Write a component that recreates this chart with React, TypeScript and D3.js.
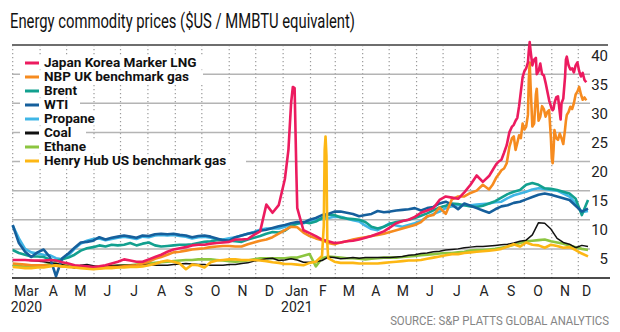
import React from "react";
import * as d3 from "d3";

// ---------- DATA ----------
const startDate = new Date(2020, 2, 1);
const weekCount = 94;

const monthLabels = ["Mar", "A", "M", "J", "J", "A", "S", "O", "N", "D", "Jan", "F", "M", "A", "M", "J", "J", "A", "S", "O", "N", "D"];
const yearLabels = ["2020", "2021"];
const yearMonthIndex = [0, 10];
const yTicks = [5, 10, 15, 20, 25, 30, 35, 40];

const seriesNames = ["Japan Korea Marker LNG", "NBP UK benchmark gas", "Brent", "WTI", "Propane", "Coal", "Ethane", "Henry Hub US benchmark gas"];
const seriesColors = ["#ec1b5f", "#f68b1f", "#12a08f", "#155f9c", "#40b6e6", "#111111", "#8cc540", "#fdb714"];

const jkmWeekly = [3.1, 3.1, 3.1, 3.0, 3.0, 3.0, 3.1, 3.0, 2.7, 2.5,
  2.2, 2.1, 2.0, 1.9, 2.0, 2.2, 2.5, 2.8, 3.2, 3.0,
  2.8, 2.8, 3.2, 3.6, 4.0, 4.5, 4.9, 5.1, 5.3, 5.6,
  5.7, 5.7, 5.9, 6.0, 6.1, 6.2, 6.6, 6.6, 6.7, 7.4,
  8.0, 12.6, 11.2, 12.5, 17.0, 30.0, 12.0, 8.2, 7.7, 7.2,
  6.6, 6.3, 6.0, 6.1, 6.3, 6.4, 6.6, 6.9, 7.2, 7.6,
  8.0, 8.7, 9.4, 9.8, 10.0, 10.5, 11.2, 11.6, 12.0, 13.4,
  14.0, 13.8, 13.6, 14.7, 16.0, 17.6, 16.5, 17.5];
const jkmJanDates = ["2021-01-07", "2021-01-12", "2021-01-14", "2021-01-16"];
const jkmJanValues = [22, 32.8, 32.6, 18];

const nbpWeekly = [2.5, 2.4, 2.3, 2.2, 2.2, 2.2, 2.1, 2.1, 2.0, 1.9,
  1.9, 1.8, 1.8, 1.7, 1.7, 1.8, 1.9, 1.9, 2.0, 2.1,
  2.2, 2.5, 2.8, 3.3, 3.6, 4.0, 4.4, 4.5, 4.7, 4.9,
  5.0, 5.1, 5.3, 5.4, 5.5, 5.5, 5.4, 5.4, 5.8, 6.1,
  6.4, 6.6, 7.0, 7.6, 8.2, 8.8, 8.7, 7.8, 7.2, 6.8,
  6.5, 6.0, 5.8, 6.1, 6.3, 6.6, 6.8, 7.0, 7.2, 7.4,
  7.6, 7.9, 8.2, 8.5, 8.8, 9.1, 9.6, 10.6, 10.8, 12.1,
  11.0, 13.5, 14.0, 14.0, 14.6, 15.0, 16.0, 15.2];

const lateDates = ["2021-08-26", "2021-08-30", "2021-09-02", "2021-09-05", "2021-09-08", "2021-09-11", "2021-09-14", "2021-09-17",
  "2021-09-19", "2021-09-21", "2021-09-23", "2021-09-25", "2021-09-27", "2021-09-29", "2021-10-01", "2021-10-03",
  "2021-10-05", "2021-10-06", "2021-10-07", "2021-10-08", "2021-10-10", "2021-10-12", "2021-10-14", "2021-10-15",
  "2021-10-17", "2021-10-19", "2021-10-21", "2021-10-23", "2021-10-25", "2021-10-27", "2021-10-29", "2021-10-31",
  "2021-11-01", "2021-11-02", "2021-11-03", "2021-11-04", "2021-11-06", "2021-11-08", "2021-11-10", "2021-11-11",
  "2021-11-12", "2021-11-14", "2021-11-16", "2021-11-17", "2021-11-18", "2021-11-20", "2021-11-22", "2021-11-24",
  "2021-11-26", "2021-11-28", "2021-11-30", "2021-12-02", "2021-12-04", "2021-12-06", "2021-12-08", "2021-12-10"];
const jkmLate = [18.5, 19.5, 20.0, 20.3, 21.5, 22.8, 25.0, 26.0,
  26.3, 27.0, 27.5, 29.5, 32.0, 34.5, 35.5, 36.0,
  37.0, 39.0, 40.5, 39.0, 36.5, 37.5, 37.8, 35.0,
  35.5, 36.8, 35.0, 34.8, 33.5, 32.0, 30.5, 29.5,
  29.0, 28.8, 29.0, 30.0, 31.0, 31.2, 28.5, 27.2,
  30.0, 30.8, 34.5, 37.5, 38.0, 36.5, 35.8, 36.0,
  35.3, 36.5, 37.0, 35.5, 34.6, 35.2, 34.0, 33.6];
const nbpLate = [16.0, 17.2, 17.8, 18.5, 18.8, 19.7, 22.5, 24.0,
  24.3, 22.0, 23.2, 24.5, 24.0, 26.5, 25.5, 26.0,
  28.0, 34.0, 37.0, 33.0, 26.0, 26.5, 31.5, 32.5,
  27.0, 27.7, 29.5, 29.0, 27.7, 28.5, 28.8, 24.0,
  20.5, 19.7, 22.0, 25.4, 24.0, 23.7, 24.8, 24.4,
  24.0, 23.0, 25.5, 27.0, 28.0, 28.5, 29.4, 29.0,
  30.0, 31.5, 32.0, 32.8, 31.5, 30.6, 31.0, 30.5];

const brentWeekly = [4.8, 4.3, 4.0, 3.7, 3.7, 3.6, 3.2, 2.9, 3.2, 3.5,
  4.0, 4.7, 5.1, 5.3, 5.6, 5.4, 5.7, 5.6, 5.7, 6.0,
  5.6, 5.9, 6.1, 5.6, 5.4, 5.5, 5.6, 5.7, 5.7, 5.8,
  6.0, 6.2, 6.3, 6.5, 6.5, 6.4, 6.3, 6.2, 6.6, 6.9,
  7.2, 7.6, 7.9, 7.8, 8.1, 8.9, 9.3, 9.6, 9.4, 9.7,
  10.3, 10.9, 10.8, 10.4, 10.2, 10.1, 10.0, 9.6, 8.8, 8.5,
  8.8, 9.3, 9.6, 9.8, 10.0, 10.3, 10.7, 11.1, 11.6, 12.1,
  12.4, 12.8, 12.7, 12.5, 12.3, 12.2, 12.4, 12.8, 13.2, 13.8,
  14.4, 14.8, 15.1, 16.0, 16.3, 16.0, 15.4, 15.3, 15.1, 14.8,
  14.5, 13.6, 10.8, 13.4];

const wtiWeekly = [9.1, 6.0, 4.5, 3.6, 4.4, 4.9, 3.6, 0.3, 3.4, 4.2,
  5.2, 6.1, 6.2, 6.4, 7.0, 6.6, 6.9, 7.1, 7.3, 7.1,
  6.9, 7.3, 7.2, 7.5, 7.6, 7.5, 7.6, 7.4, 7.3, 7.0,
  7.2, 7.3, 7.1, 6.8, 6.5, 6.4, 7.0, 7.3, 7.6, 7.8,
  8.1, 8.3, 8.6, 8.9, 9.1, 9.4, 9.6, 9.5, 10.0, 10.3,
  10.8, 11.0, 11.4, 11.4, 11.2, 11.0, 10.6, 10.8, 11.0, 11.5,
  11.3, 11.4, 11.6, 11.7, 11.8, 12.0, 11.6, 12.0, 12.2, 12.8,
  13.1, 12.6, 11.8, 12.8, 12.4, 12.0, 11.6, 11.2, 11.8, 12.3,
  12.5, 12.9, 13.1, 13.5, 13.9, 14.3, 14.5, 14.3, 14.0, 13.7,
  13.4, 12.4, 11.4, 11.9];

const propaneWeekly = [9.0, 6.8, 5.0, 4.4, 4.2, 4.0, 3.9, 3.4, 3.2, 3.9,
  5.0, 5.9, 6.4, 6.7, 6.8, 6.5, 6.7, 6.9, 7.1, 6.9,
  6.7, 7.1, 7.0, 7.3, 7.4, 7.3, 7.4, 7.2, 7.1, 6.8,
  7.0, 7.1, 6.9, 6.7, 6.6, 6.8, 7.0, 7.3, 7.6, 7.9,
  8.3, 8.5, 8.5, 8.5, 8.8, 9.3, 9.4, 9.4, 9.8, 10.0,
  10.1, 10.3, 10.5, 10.5, 10.2, 9.9, 9.7, 9.0, 8.4, 8.2,
  8.8, 9.4, 9.0, 8.8, 9.1, 9.4, 9.8, 10.5, 11.0, 11.4,
  12.0, 12.3, 12.5, 12.5, 12.5, 12.6, 12.7, 12.8, 13.0, 13.1,
  13.7, 14.2, 14.5, 14.8, 15.2, 15.4, 15.3, 15.1, 15.0, 14.5,
  14.0, 12.8, 11.3, 11.5];

const coalWeekly = [3.1, 3.1, 3.1, 3.0, 2.9, 2.8, 2.6, 2.5, 2.3, 2.0,
  1.7, 2.2, 2.3, 2.1, 1.9, 2.1, 2.1, 2.2, 2.2, 2.2,
  2.2, 2.3, 2.3, 2.2, 2.2, 2.2, 2.3, 2.4, 2.5, 2.4,
  2.3, 2.3, 2.2, 2.2, 2.2, 2.3, 2.3, 2.5, 2.6, 2.9,
  3.1, 3.3, 3.4, 3.0, 3.1, 3.3, 3.1, 2.7, 2.7, 2.8,
  3.0, 3.6, 3.5, 3.3, 3.4, 3.5, 3.4, 3.5, 3.5, 3.5,
  3.5, 3.5, 3.6, 3.7, 3.9, 4.0, 4.2, 4.3, 4.5, 4.6,
  4.8, 4.9, 5.0, 5.2, 5.3, 5.4, 5.4, 5.5, 5.6, 5.7,
  5.8, 6.0, 6.3, 6.5, 7.4, 9.5, 9.4, 8.4, 6.8, 6.1,
  5.8, 5.2, 5.6, 5.4];

const ethaneWeekly = [2.2, 2.1, 1.9, 2.0, 2.1, 2.2, 2.4, 2.5, 2.3, 2.2,
  2.1, 1.9, 1.9, 1.9, 2.0, 2.0, 2.1, 2.1, 2.2, 2.2,
  2.3, 2.4, 2.5, 2.6, 2.7, 2.8, 2.9, 3.0, 3.1, 3.1,
  3.2, 3.2, 3.2, 3.1, 3.0, 2.9, 2.8, 2.9, 3.0, 3.2,
  3.4, 3.4, 3.4, 3.4, 3.4, 3.5, 3.5, 3.8, 4.1, 2.0,
  3.4, 3.7, 3.6, 3.5, 3.4, 3.4, 3.3, 3.2, 3.3, 3.4,
  3.5, 3.5, 3.5, 3.6, 3.7, 3.8, 3.9, 4.0, 4.1, 4.2,
  4.3, 4.3, 4.4, 4.5, 4.7, 4.8, 4.8, 4.9, 5.0, 5.2,
  5.4, 5.7, 6.0, 6.3, 6.4, 6.5, 6.6, 6.3, 6.1, 5.9,
  5.6, 5.3, 5.0, 4.8];

const hhWeekly = [1.9, 1.8, 1.7, 1.7, 1.8, 1.8, 2.0, 2.2, 2.0, 1.9,
  1.8, 1.7, 1.6, 1.5, 1.6, 1.7, 1.7, 1.8, 1.8, 1.9,
  1.9, 2.0, 2.2, 2.4, 2.8, 3.0, 2.8, 2.5, 1.5, 2.3,
  2.2, 1.8, 2.7, 3.0, 3.1, 3.2, 3.2, 3.1, 3.1, 3.1,
  3.0, 2.9, 2.7, 2.6, 2.4, 2.4, 2.3, 2.2, 2.6, 2.8,
  3.8, 3.4, 2.8, 2.6, 2.6, 2.6, 2.5, 2.5, 2.5, 2.5,
  2.6, 2.7, 2.8, 2.9, 3.0, 3.0, 3.1, 3.3, 3.5, 3.7,
  3.9, 4.1, 4.1, 4.3, 4.4, 4.5, 4.6, 4.7, 4.8, 5.0,
  5.4, 5.8, 5.4, 6.1, 5.7, 5.6, 5.2, 5.7, 5.5, 5.2,
  5.3, 4.8, 4.2, 3.7];
const hhSpikeDates = ["2021-02-16", "2021-02-17", "2021-02-18", "2021-02-19", "2021-02-20"];
const hhSpikeValues = [9, 22, 24.3, 21, 6];

// ---------- BUILD ----------
const parse = d3.timeParse("%Y-%m-%d");
const weeks = d3.range(weekCount).map((i) => d3.timeDay.offset(startDate, 7 * i));

type Pt = { date: Date; value: number };
function build(weekly: number[], extraDates: string[][] = [], extraValues: number[][] = []): Pt[] {
  const pts: Pt[] = weekly.map((v, i) => ({ date: weeks[i], value: v }));
  extraDates.forEach((ds, k) => ds.forEach((s, j) => pts.push({ date: parse(s) as Date, value: extraValues[k][j] })));
  return pts.sort((a, b) => +a.date - +b.date);
}

const seriesData: Pt[][] = [
  build(jkmWeekly, [jkmJanDates, lateDates], [jkmJanValues, jkmLate]),
  build(nbpWeekly, [lateDates], [nbpLate]),
  build(brentWeekly),
  build(wtiWeekly),
  build(propaneWeekly),
  build(coalWeekly),
  build(ethaneWeekly),
  build(hhWeekly, [hhSpikeDates], [hhSpikeValues]),
];
const drawOrder = [6, 5, 4, 2, 3, 1, 0, 7];
const lineWidths = [2.6, 2.6, 2.6, 2.6, 2.6, 1.5, 2.6, 2.6];

export default function App() {
  const W = 620, H = 332;
  const left = 12, right = 590;
  const x = d3.scaleTime().domain([new Date(2020, 2, 1), new Date(2021, 11, 1)]).range([12.7, 578.3]);
  const y = d3.scaleLinear().domain([0, 40]).range([278, 45]);
  const labelEnd = new Date(2021, 11, 20);
  const months = d3.timeMonth.range(new Date(2020, 2, 1), new Date(2021, 11, 2));
  const line = d3.line<Pt>().x((d) => x(d.date)).y((d) => y(d.value));
  const font = "Roboto, 'Open Sans', sans-serif";

  const monthMid = (i: number) => {
    const a = months[i];
    const b = i + 1 < months.length ? months[i + 1] : labelEnd;
    return (x(a) + x(b)) / 2;
  };

  const legendY0 = 63, legendStep = 14;
  const legendWidths = [160, 153, 42, 30, 60, 36, 54, 196];

  return (
    <svg width={W} height={H} style={{ position: "absolute", left: 0, top: 0, background: "#fff" }} fontFamily={font}>
      <rect width={W} height={H} fill="#fff" />
      <text x={10} y={28} fontSize={20} fill="#111" textLength={345} lengthAdjust="spacingAndGlyphs">
        Energy commodity prices ($US / MMBTU equivalent)
      </text>

      {/* vertical dotted month lines */}
      {months.map((m, i) => (
        <line key={"v" + i} x1={x(m)} x2={x(m)} y1={45} y2={278} stroke="#9a9a9a" strokeWidth={1.2} strokeDasharray="1.2,2.8" />
      ))}

      {/* horizontal gridlines */}
      {yTicks.filter((t) => t < 40).map((t) => (
        <line key={"h" + t} x1={left} x2={right} y1={y(t)} y2={y(t)} stroke="#b4b4b4" strokeWidth={1.5} />
      ))}
      <line x1={left} x2={608} y1={y(40)} y2={y(40)} stroke="#6e6e6e" strokeWidth={2} />

      {/* y labels */}
      {yTicks.map((t) => (
        <text key={"yl" + t} x={608} y={y(t) + 15.5} fontSize={15} textAnchor="end" fill="#222">{t}</text>
      ))}

      {/* legend */}
      {seriesNames.map((n, i) => {
        const cy = legendY0 + legendStep * i;
        return (
          <g key={"lg" + i}>
            <rect x={20} y={cy - 6.5} width={legendWidths[i] - 20 + 44 + 6} height={13} fill="#fff" />
            <line x1={25} x2={39} y1={cy} y2={cy} stroke={seriesColors[i]} strokeWidth={3} />
            <text transform={`translate(44,${cy + 4.4}) scale(1.13,1)`} fontSize={12} fontWeight={700} fill="#111">{n}</text>
          </g>
        );
      })}

      {/* series */}
      {drawOrder.map((k) => (
        <path key={"s" + k} d={line(seriesData[k]) || ""} fill="none" stroke={seriesColors[k]} strokeWidth={lineWidths[k]} strokeLinejoin="round" />
      ))}

      {/* x axis */}
      <line x1={left} x2={610} y1={278} y2={278} stroke="#111" strokeWidth={1.5} />
      {monthLabels.map((l, i) => (
        <text key={"xl" + i} x={monthMid(i)} y={295.5} fontSize={14} textAnchor="middle" fill="#222">{l}</text>
      ))}
      {yearLabels.map((l, i) => (
        <text key={"yr" + i} x={monthMid(yearMonthIndex[i])} y={312} fontSize={14} textAnchor="middle" fill="#222">{l}</text>
      ))}

      <text transform="translate(609,325) scale(0.91,1)" fontSize={12.5} textAnchor="end" fill="#858585">
        SOURCE: S&amp;P PLATTS GLOBAL ANALYTICS
      </text>
    </svg>
  );
}
